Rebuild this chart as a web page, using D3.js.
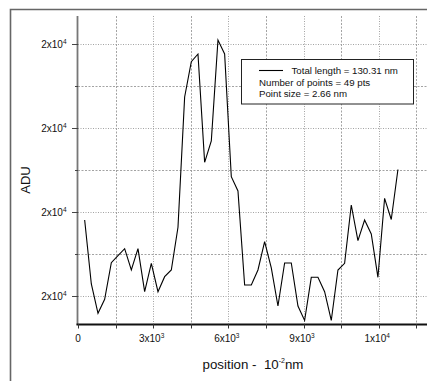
<!DOCTYPE html>
<html>
<head>
<meta charset="utf-8">
<script src="https://cdn.jsdelivr.net/npm/d3@7"></script>
<style>
  html, body { margin: 0; padding: 0; background: #fff; }
  svg { display: block; font-family: "Liberation Sans", Arial, sans-serif; }
</style>
</head>
<body>
<svg id="chart" width="427" height="381"></svg>
<script>
// ---- data ----
const pointSize = 266; // in 10^-2 nm
const positionIndex = d3.range(1, 49); // 48 drawn samples
const aduValues = [
  18810, 17286, 16588, 16921, 17793, 17960, 18126, 17619, 18126, 17102,
  17779, 17102, 17460, 17619, 18636, 21738, 22579, 22762, 20183, 20691,
  23095, 22762, 19841, 19500, 17262, 17262, 17619, 18293, 17667, 16762,
  17786, 17786, 16762, 16417, 17445, 17445, 17102, 16417, 17619, 17779,
  19167, 18317, 18810, 18476, 17445, 19326, 18821, 20012
];
const xMajorTicks = [0, 3000, 6000, 9000, 12000];
const xMinorTicks = [1500, 4500, 7500, 10500, 13500];
const yMajorTicks = [17000, 19000, 21000, 23000];
const yMinorTicks = [18000, 20000, 22000];
const legendLines = ["Total length = 130.31 nm", "Number of points = 49 pts", "Point size = 2.66 nm"];
const xTitle = "position -  10";
const xTitleSup = "-2";
const xTitleTail = "nm";
const yTitle = "ADU";

const data = positionIndex.map((k, i) => ({ x: k * pointSize, y: aduValues[i] }));

// ---- layout ----
const svg = d3.select("#chart");
const pLeft = 78, pTop = 16, pBottom = 324, pRight = 428.8;

const x = d3.scaleLinear().domain([0, 14000]).range([pLeft, pRight]);
const y = d3.scaleLinear().domain([16333, 23667]).range([pBottom, pTop]);

// outer frame
svg.append("path")
  .attr("d", `M10.5,381 L10.5,9.5 L427,9.5`)
  .attr("fill", "none").attr("stroke", "#666").attr("stroke-width", 1.6);

// gridlines
const grid = svg.append("g");
grid.selectAll("line.hx").data(yMajorTicks).join("line")
  .attr("x1", pLeft).attr("x2", 427)
  .attr("y1", d => Math.round(y(d)) + 0.5).attr("y2", d => Math.round(y(d)) + 0.5)
  .attr("stroke", "#999").attr("stroke-width", 0.9).attr("stroke-dasharray", "1,1.5");
grid.selectAll("line.hm").data(yMinorTicks).join("line")
  .attr("x1", pLeft).attr("x2", 427)
  .attr("y1", d => Math.round(y(d)) + 0.5).attr("y2", d => Math.round(y(d)) + 0.5)
  .attr("stroke", "#999").attr("stroke-width", 0.9).attr("stroke-dasharray", "2,1.5");
grid.selectAll("line.vx").data(xMajorTicks.filter(d => d > 0)).join("line")
  .attr("x1", d => Math.round(x(d)) + 0.5).attr("x2", d => Math.round(x(d)) + 0.5)
  .attr("y1", pTop).attr("y2", pBottom)
  .attr("stroke", "#999").attr("stroke-width", 0.9).attr("stroke-dasharray", "1,1.5");
grid.selectAll("line.vm").data(xMinorTicks).join("line")
  .attr("x1", d => Math.round(x(d)) + 0.5).attr("x2", d => Math.round(x(d)) + 0.5)
  .attr("y1", pTop).attr("y2", pBottom)
  .attr("stroke", "#999").attr("stroke-width", 0.9).attr("stroke-dasharray", "2,1.5");

// data line
const line = d3.line().x(d => x(d.x)).y(d => y(d.y));
svg.append("path").datum(data)
  .attr("d", line)
  .attr("fill", "none").attr("stroke", "#000").attr("stroke-width", 1.1)
  .attr("stroke-linejoin", "miter");

// legend
const lg = svg.append("g");
lg.append("rect").attr("x", 241.5).attr("y", 59.5).attr("width", 172).attr("height", 44.5)
  .attr("fill", "#fff").attr("stroke", "#222").attr("stroke-width", 1);
lg.append("line").attr("x1", 259).attr("x2", 283).attr("y1", 70.5).attr("y2", 70.5)
  .attr("stroke", "#000").attr("stroke-width", 1.1);
lg.selectAll("text").data(legendLines).join("text")
  .attr("x", (d, i) => i === 0 ? 291.5 : 259)
  .attr("y", (d, i) => 73.8 + i * 11.7)
  .attr("font-size", "9.7px").attr("fill", "#111")
  .text(d => d);

// axes
function sciLabel(sel, v) {
  if (v === 0) { sel.text("0"); return; }
  let e = Math.floor(Math.log10(Math.abs(v)));
  let m = Math.round(v / Math.pow(10, e));
  if (m === 10) { m = 1; e += 1; }
  sel.append("tspan").text(m + "x10");
  sel.append("tspan").attr("font-size", "6.5px").attr("dy", "-4").text(e);
}

// y axis
svg.append("line").attr("x1", pLeft - 0.5).attr("x2", pLeft - 0.5).attr("y1", pTop).attr("y2", pBottom + 1)
  .attr("stroke", "#777").attr("stroke-width", 1.8);
svg.selectAll("line.yt").data(yMajorTicks).join("line")
  .attr("x1", pLeft - 6).attr("x2", pLeft).attr("y1", d => Math.round(y(d)) + 0.5).attr("y2", d => Math.round(y(d)) + 0.5)
  .attr("stroke", "#444").attr("stroke-width", 1);
svg.selectAll("line.ytm").data(yMinorTicks).join("line")
  .attr("x1", pLeft - 3).attr("x2", pLeft).attr("y1", d => Math.round(y(d)) + 0.5).attr("y2", d => Math.round(y(d)) + 0.5)
  .attr("stroke", "#444").attr("stroke-width", 1);
svg.selectAll("text.yl").data(yMajorTicks).join("text")
  .attr("x", 66.5).attr("y", d => y(d) + 3.8)
  .attr("text-anchor", "end").attr("font-size", "10px").attr("fill", "#111")
  .each(function(d) { sciLabel(d3.select(this), d); });

// x axis
svg.append("line").attr("x1", pLeft - 1.5).attr("x2", 427).attr("y1", pBottom + 0.5).attr("y2", pBottom + 0.5)
  .attr("stroke", "#111").attr("stroke-width", 1.8);
svg.selectAll("line.xt").data(xMajorTicks.concat(xMinorTicks)).join("line")
  .attr("x1", d => Math.round(x(d)) + 0.5).attr("x2", d => Math.round(x(d)) + 0.5)
  .attr("y1", pBottom).attr("y2", pBottom + 4.5)
  .attr("stroke", "#333").attr("stroke-width", 1);
svg.selectAll("text.xl").data(xMajorTicks).join("text")
  .attr("x", d => x(d) - (d === 0 ? 0 : 1.5)).attr("y", 342)
  .attr("text-anchor", "middle").attr("font-size", "10px").attr("fill", "#111")
  .each(function(d) { sciLabel(d3.select(this), d); });

// titles
const xt = svg.append("text").attr("x", 253).attr("y", 368.5)
  .attr("text-anchor", "middle").attr("font-size", "13.3px").attr("fill", "#111")
  .style("white-space", "pre");
xt.append("tspan").text(xTitle);
xt.append("tspan").attr("font-size", "7px").attr("dy", "-6").text(xTitleSup);
xt.append("tspan").attr("dy", "6").text(xTitleTail);

svg.append("text")
  .attr("transform", "translate(29.5,180) rotate(-90)")
  .attr("text-anchor", "middle").attr("font-size", "13px").attr("fill", "#111")
  .text(yTitle);
</script>
</body>
</html>
